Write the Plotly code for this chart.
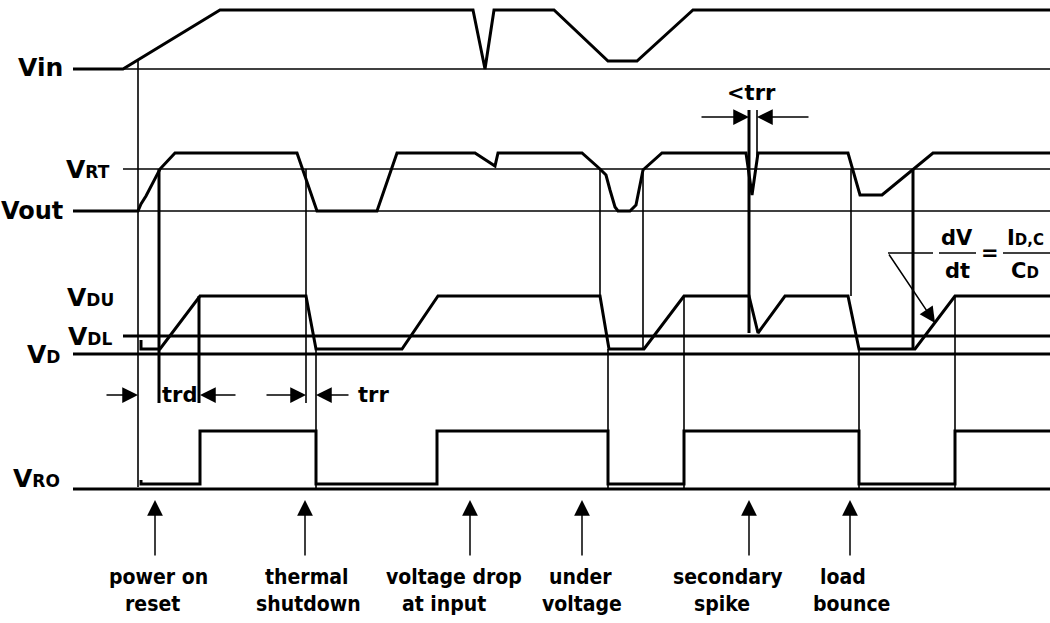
import plotly.graph_objects as go

# ---------------- data (diagram units: time -> x, level -> y, y grows downward) -------------
# Waveforms
vin_t = [73, 123, 220, 473, 485, 494, 554, 608, 637, 693, 1050]
vin_v = [69, 69, 10, 10, 69, 10, 10, 61, 61, 10, 10]

vout_t = [73, 138, 141, 146, 160, 175, 297, 317, 377, 397, 475, 495, 498, 582, 600, 606, 610,
          615, 618, 630, 636, 640, 643, 662, 746, 752, 758, 848, 860, 882, 933, 1050]
vout_v = [211, 211, 204, 196, 169, 153, 153, 211, 211, 153, 153, 166, 153, 153, 169, 175, 190,
          207, 211, 211, 205, 185, 170, 153, 153, 195, 153, 153, 195, 195, 153, 153]

vd_t = [141, 141, 160, 200, 306, 316, 402, 438, 600, 609, 644, 684, 749, 758, 785, 848, 859, 915, 955, 1050]
vd_v = [340, 349, 349, 296, 296, 349, 349, 296, 296, 349, 349, 296, 296, 333, 296, 296, 349, 349, 296, 296]

vro_t = [141, 141, 200, 200, 316, 316, 437, 437, 608, 608, 684, 684, 859, 859, 955, 955, 1050]
vro_v = [480, 484, 484, 431, 431, 484, 484, 431, 431, 484, 484, 431, 431, 484, 484, 431, 431]

# Reference levels: level, start
thin_levels = [69, 169, 211]
thin_starts = [73, 123, 73]
thick_levels = [336, 354, 489]
thick_starts = [123, 73, 73]
t_end = 1050

# Event marker verticals: time, from level, to level, thick?
mark_t = [138, 159, 199, 306, 316, 600, 608, 643, 684, 749, 757, 851, 859, 913, 955]
mark_y0 = [60, 169, 296, 169, 349, 169, 349, 169, 296, 110, 110, 169, 349, 169, 296]
mark_y1 = [487, 403, 403, 403, 489, 296, 489, 349, 489, 333, 160, 296, 489, 349, 489]
mark_thick = [False, True, True, False, False, False, False, False, False, True, False, False, False, True, False]

# Signal labels
sig_labels = ["Vin", "V<span style='font-size:17px'>RT</span>", "Vout",
              "V<span style='font-size:17px'>DU</span>", "V<span style='font-size:17px'>DL</span>",
              "V<span style='font-size:17px'>D</span>", "V<span style='font-size:17px'>RO</span>"]
sig_label_x = [65, 112, 65, 116, 114, 62, 62]
sig_label_y = [67, 169, 211, 297, 336, 354, 478]
sig_label_size = [25, 25, 24, 25, 25, 25, 25]

# Event descriptions
event_t = [155, 305, 470, 582, 749, 850]
event_line1 = ["power on", "thermal", "voltage drop", "under", "secondary", "load"]
event_line1_x = [158, 307, 454, 580, 728, 843]
event_line2 = ["reset", "shutdown", "at input", "voltage", "spike", "bounce"]
event_line2_x = [152, 308, 444, 582, 722, 851]

# Timing arrows: head (t, y), tail (t, y)
timing_head_t = [138, 200, 306, 316, 749, 757, 935]
timing_head_y = [395, 395, 395, 395, 117, 117, 323]
timing_tail_t = [105, 237, 265, 350, 700, 810, 888]
timing_tail_y = [395, 395, 395, 395, 117, 117, 253]

# ---------------- figure -------------
fig = go.Figure()
BLACK = "#000000"

def add_line(xs, ys, w):
    fig.add_trace(go.Scatter(x=xs, y=ys, mode="lines", line=dict(color=BLACK, width=w),
                             hoverinfo="skip", showlegend=False))

# thin reference levels
xs, ys = [], []
for lv, st in zip(thin_levels, thin_starts):
    xs += [st, t_end, None]
    ys += [lv, lv, None]
add_line(xs, ys, 1.6)

# thick reference levels
xs, ys = [], []
for lv, st in zip(thick_levels, thick_starts):
    xs += [st, t_end, None]
    ys += [lv, lv, None]
add_line(xs, ys, 3)

# markers
for want_thick, w in [(False, 1.6), (True, 3)]:
    xs, ys = [], []
    for t, a, b, th in zip(mark_t, mark_y0, mark_y1, mark_thick):
        if th == want_thick:
            xs += [t, t, None]
            ys += [a, b, None]
    add_line(xs, ys, w)

# waveforms
for tt, vv in [(vin_t, vin_v), (vout_t, vout_v), (vd_t, vd_v), (vro_t, vro_v)]:
    add_line(tt, vv, 3)

# formula fraction bars and slope triangle top
add_line([888, 933, None, 939, 976, None, 1003, 1050], [253, 253, None, 253, 253, None, 253, 253], 1.6)

FONT_W = "DejaVu Sans"
FONT_N = "DejaVu Sans Condensed, DejaVu Sans"

ann = []
for txt, x, y, s in zip(sig_labels, sig_label_x, sig_label_y, sig_label_size):
    ann.append(dict(x=x, y=y, text="<b>" + txt + "</b>", xanchor="right", yanchor="middle",
                    showarrow=False, font=dict(family=FONT_W, size=s, color=BLACK)))

for t in event_t:
    ann.append(dict(x=t, y=500, ax=t, ay=557, axref="x", ayref="y", text="", showarrow=True,
                    arrowhead=2, arrowsize=2.1, arrowwidth=1.5, arrowcolor=BLACK, standoff=0))
for txt, x in zip(event_line1, event_line1_x):
    ann.append(dict(x=x, y=577, text="<b>" + txt + "</b>", showarrow=False, xanchor="center",
                    yanchor="middle", font=dict(family=FONT_N, size=21, color=BLACK)))
for txt, x in zip(event_line2, event_line2_x):
    ann.append(dict(x=x, y=604, text="<b>" + txt + "</b>", showarrow=False, xanchor="center",
                    yanchor="middle", font=dict(family=FONT_N, size=21, color=BLACK)))

for hx, hy, tx, ty in zip(timing_head_t, timing_head_y, timing_tail_t, timing_tail_y):
    ann.append(dict(x=hx, y=hy, ax=tx, ay=ty, axref="x", ayref="y", text="", showarrow=True,
                    arrowhead=2, arrowsize=2.1, arrowwidth=1.5, arrowcolor=BLACK, standoff=0))

small_texts = [("trd", 179, 395), ("trr", 373, 395), ("&lt;trr", 751, 93),
               ("dV", 957, 238), ("dt", 957, 271), ("=", 990, 253),
               ("I<span style='font-size:15px'>D,C</span>", 1025, 238),
               ("C<span style='font-size:15px'>D</span>", 1025, 271)]
for txt, x, y in small_texts:
    ann.append(dict(x=x, y=y, text="<b>" + txt + "</b>", showarrow=False, xanchor="center",
                    yanchor="middle", font=dict(family=FONT_W, size=21, color=BLACK)))

fig.update_layout(
    width=1050, height=623, autosize=False,
    margin=dict(l=0, r=0, t=0, b=0, pad=0),
    paper_bgcolor="white", plot_bgcolor="white",
    xaxis=dict(range=[0, 1050], visible=False, fixedrange=True),
    yaxis=dict(range=[623, 0], visible=False, fixedrange=True),
    annotations=ann, showlegend=False,
)

fig.write_html("out.html", post_script="document.body.style.margin='0';",
               config={"displayModeBar": False})
